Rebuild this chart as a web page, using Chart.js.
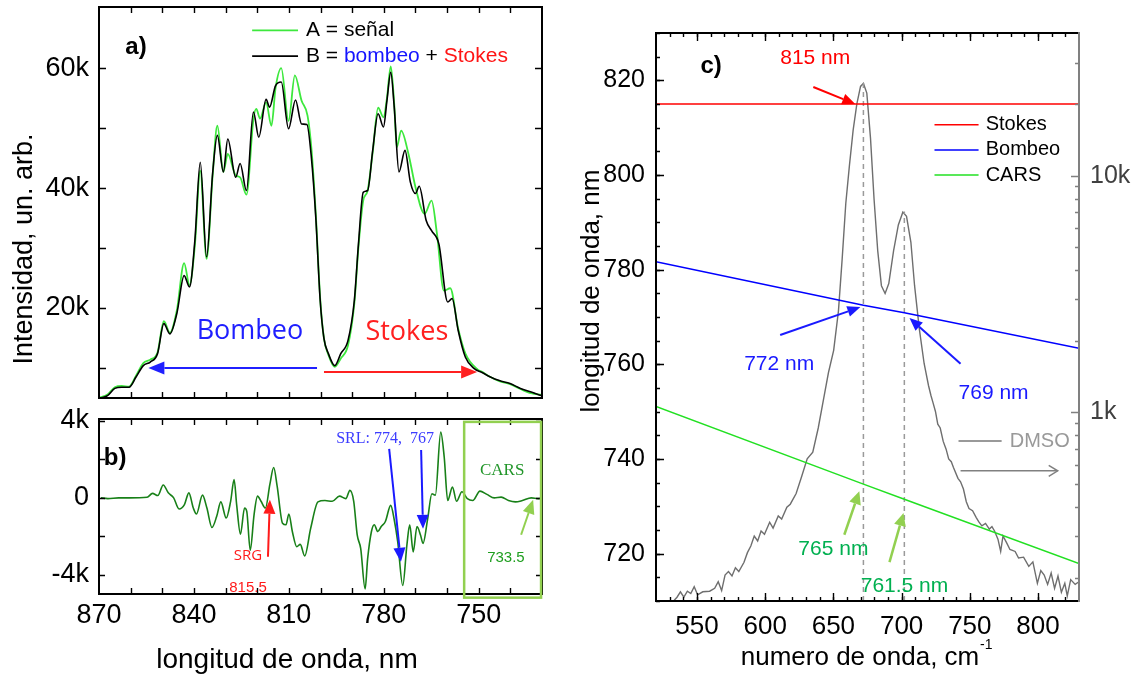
<!DOCTYPE html>
<html>
<head>
<meta charset="utf-8">
<script src="https://cdn.jsdelivr.net/npm/chart.js@4.4.1/dist/chart.umd.min.js"></script>
<style>
  html, body { margin: 0; padding: 0; background: #fff; }
  body { width: 1137px; height: 674px; position: relative; overflow: hidden; }
  canvas { position: absolute; }
</style>
</head>
<body>
<canvas id="chart-a" width="560" height="400" style="left:0;top:0"></canvas>
<canvas id="chart-b" width="560" height="274" style="left:0;top:400px"></canvas>
<canvas id="chart-c" width="577" height="674" style="left:560px;top:0"></canvas>
<script>
const FONT = "'Liberation Sans', Arial, sans-serif";

// ---- panel a) : A = señal (green), B = bombeo + Stokes (black), intensity in k
const lamSenal = [870, 867.3, 865.0, 862.8, 860.5, 858.3, 856.0, 853.8, 851.5, 849.5, 847.6, 845.4, 843.1, 841.4, 839.7, 838.0, 836.0, 834.1, 832.6, 830.7, 829.3, 826.8, 825.4, 823.4, 821.2, 820.3, 819.1, 817.2, 815.5, 814.2, 812.4, 810.1, 808.1, 806.0, 804.1, 802.9, 801.5, 800.1, 798.9, 797.5, 795.5, 793.6, 791.3, 789.3, 788.0, 786.5, 785.1, 783.5, 781.8, 780.1, 779.0, 777.8, 776.7, 775.9, 774.5, 772.2, 770.0, 767.1, 764.9, 763.2, 761.0, 759.0, 756.5, 754.2, 750.2, 749.1, 746.3, 743.5, 740.1, 736.8, 733.4, 730.2];
const senal = [5.0, 5.6, 6.8, 7.0, 6.9, 8.7, 10.8, 11.4, 12.6, 17.8, 15.9, 19.6, 27.5, 23.8, 30.5, 42.9, 28.2, 42.0, 50.4, 42.7, 45.7, 42.1, 41.8, 38.9, 51.5, 53.2, 51.6, 54.3, 50.4, 56.7, 60.0, 51.2, 58.8, 54.6, 52.1, 46.8, 35.8, 21.6, 14.9, 12.2, 10.2, 11.6, 13.8, 20.8, 30.2, 37.9, 39.6, 46.0, 53.4, 51.8, 55.0, 60.3, 54.0, 46.8, 49.6, 45.7, 40.2, 35.7, 37.9, 32.4, 22.9, 23.3, 16.6, 12.4, 9.7, 9.4, 8.5, 7.8, 7.3, 6.5, 5.8, 5.5];

const lamBS = [870, 867.3, 865.0, 862.8, 860.5, 858.3, 856.0, 853.8, 851.5, 849.5, 847.6, 845.4, 843.1, 841.4, 839.7, 838.0, 836.0, 834.1, 832.6, 830.7, 829.3, 826.8, 825.4, 823.4, 821.2, 819.5, 817.2, 816.1, 814.2, 812.4, 810.1, 807.9, 806.0, 804.3, 802.9, 801.5, 800.1, 798.9, 797.5, 795.5, 793.6, 791.3, 789.3, 788.0, 786.5, 785.1, 783.5, 781.8, 780.1, 779.0, 777.8, 776.7, 775.2, 773.3, 771.6, 770.0, 768.8, 766.6, 764.9, 762.6, 759.8, 758.4, 756.5, 754.2, 751.4, 749.1, 746.3, 743.5, 740.1, 736.8, 733.4, 730.2];
const bombeoStokes = [4.9, 5.4, 6.6, 6.8, 6.8, 8.5, 10.4, 11.0, 12.4, 17.4, 15.7, 19.1, 25.4, 23.5, 31.3, 44.3, 28.5, 42.4, 48.8, 42.7, 48.2, 41.8, 44.1, 39.6, 52.7, 48.5, 54.8, 53.5, 57.1, 57.7, 49.9, 54.7, 50.7, 50.6, 45.2, 35.2, 21.3, 14.9, 12.4, 10.4, 12.4, 14.6, 21.3, 30.7, 39.3, 39.6, 46.3, 52.4, 50.2, 54.6, 59.3, 53.5, 42.7, 46.3, 41.0, 39.1, 40.3, 34.6, 32.9, 30.7, 21.0, 21.6, 16.3, 11.8, 9.9, 9.3, 8.5, 7.9, 7.4, 6.6, 6.0, 5.4];

// ---- panel b) : difference A - B, in k
const lamDiff = [869.4, 867.2, 863.8, 860.5, 854.8, 853.1, 851.4, 849.7, 848.1, 846.4, 844.7, 843.0, 841.6, 840.2, 839.2, 837.3, 835.9, 834.3, 832.8, 831.5, 829.8, 828.4, 827.3, 826.5, 825.3, 824.0, 823.3, 822.2, 821.0, 819.9, 818.8, 817.4, 816.0, 814.8, 813.7, 812.0, 810.9, 810.0, 808.9, 807.5, 806.4, 805.0, 803.1, 800.8, 798.6, 796.3, 794.0, 792.0, 790.7, 789.5, 788.4, 787.3, 785.9, 785.1, 783.9, 783.0, 781.9, 780.8, 779.5, 777.8, 776.7, 775.6, 774.0, 772.7, 771.8, 770.7, 769.5, 768.4, 767.6, 766.1, 764.8, 763.7, 762.0, 760.9, 759.8, 758.3, 757.0, 755.3, 753.6, 751.9, 749.6, 747.4, 745.1, 742.9, 740.6, 738.4, 736.2, 733.4, 731.2, 730.2];
const diff = [0, -0.04, 0, 0, 0.03, 0.23, 0.12, 0.67, 0.26, 0, -0.58, -0.35, 0.26, -0.53, -0.84, 0.14, -0.53, -1.54, -0.96, -0.21, -1.05, -0.18, 0.95, -0.35, -1.89, -0.53, -0.70, -2.72, -0.88, 0.09, -0.18, -0.53, 0.70, 1.58, 0.61, -1.32, -1.40, -0.84, -1.75, -2.54, -2.42, -3.02, -1.58, -0.21, -0.14, -0.18, 0.09, -0.04, 0.39, -0.18, -1.93, -2.63, -4.74, -3.16, -1.75, -1.40, -1.75, -1.49, -1.23, -0.39, -1.14, -2.28, -4.56, -2.46, -1.40, -2.81, -1.49, -1.93, -2.37, -1.05, 0.21, 0.14, 3.42, 2.11, -0.14, 0.56, -0.18, 0.32, -0.04, -0.14, 0.35, 0.18, 0, 0.04, -0.14, -0.21, -0.14, 0, -0.04, -0.02];

// ---- panel c) : wavelength lines vs Raman shift, DMSO spectrum (counts, log)
const shiftLines = [520, 672, 702, 830];
const stokesNm = [815, 815, 815, 815];
const bombeoNm = [781.7, 772.5, 770.9, 763.4];
const carsNm = [751.1, 734.7, 731.5, 717.9];
const peakShift = [672, 702];
const peakTopNm = [819.5, 792.3];

const dmsoShift = [532.9, 535.4, 537.9, 540.4, 543.0, 545.5, 548.0, 550.5, 554.3, 559.3, 563.0, 565.6, 568.1, 570.6, 573.1, 575.7, 578.2, 580.7, 584.5, 587.0, 589.5, 592.0, 594.5, 597.0, 599.5, 603.3, 605.8, 609.6, 612.1, 615.9, 618.4, 622.7, 626.8, 630.8, 634.9, 638.9, 642.9, 646.4, 650.2, 653.7, 656.4, 659.1, 661.8, 664.5, 667.2, 669.9, 672.0, 674.5, 677.2, 679.8, 682.5, 685.2, 687.9, 690.6, 694.1, 697.6, 700.9, 703.6, 706.8, 709.5, 713.0, 716.5, 719.7, 721.5, 723.0, 724.8, 726.5, 728.3, 730.5, 732.6, 734.5, 736.4, 738.0, 741.3, 743.2, 745.3, 747.4, 749.4, 752.0, 754.7, 756.6, 758.8, 761.5, 764.3, 766.2, 768.1, 770.6, 772.6, 774.3, 776.9, 779.4, 783.2, 785.7, 789.4, 793.2, 796.2, 799.5, 802.0, 804.5, 807.0, 809.6, 812.1, 814.6, 817.1, 819.6, 821.4, 823.9, 827.2, 830];
const dmso = [160, 166, 175, 166, 176, 172, 184, 170, 175, 176, 181, 193, 177, 206, 213, 204, 221, 213, 233, 256, 273, 301, 287, 316, 306, 344, 325, 366, 355, 398, 410, 455, 538, 637, 680, 860, 1148, 1475, 1830, 2680, 4420, 7640, 11100, 15600, 20100, 23800, 24500, 22300, 14400, 7960, 4810, 3430, 3180, 3500, 4810, 6190, 7010, 6730, 5230, 3430, 2250, 1610, 1300, 1180, 1100, 1010, 893, 860, 755, 700, 637, 620, 586, 527, 510, 475, 420, 393, 385, 360, 345, 332, 340, 322, 330, 316, 292, 259, 301, 282, 264, 259, 243, 245, 224, 234, 190, 215, 206, 188, 210, 181, 204, 174, 190, 168, 197, 188, 193];

// tick values
const range = (a, b, s) => { const r = []; for (let v = a; v <= b + 1e-9; v += s) r.push(v); return r; };
const ticksAB = [870, 840, 810, 780, 750];
const yTicksA = [20000, 40000, 60000];
const yTicksB = [-4000, 0, 4000];
const xTicksC = [550, 600, 650, 700, 750, 800];
const yTicksC = [720, 740, 760, 780, 800, 820];
const yTicksC2 = [1000, 10000];
const logMinor = [200, 300, 400, 500, 600, 700, 800, 900, 2000, 3000, 4000, 5000, 6000, 7000, 8000, 9000, 20000, 30000];

const pts = (xs, ys, k = 1) => xs.map((x, i) => ({ x, y: ys[i] * k }));

// fixed axis sizes, no extra label padding so the plot box sits where it should
const fixY = (w) => (s) => { s.width = w; s.paddingTop = 0; s.paddingBottom = 0; };
const fixX = (h) => (s) => { s.height = h; s.paddingLeft = 0; s.paddingRight = 0; };

// box frame with inward ticks
const makeFrame = (cfg) => ({
    id: 'frame',
    afterDatasetsDraw(chart) {
        const { ctx, chartArea: a } = chart;
        ctx.save();
        for (const t of cfg.ticks) {
            const sc = chart.scales[t.scale];
            ctx.strokeStyle = t.color || '#000';
            ctx.lineWidth = t.width || 1.4;
            ctx.beginPath();
            for (const v of t.values) {
                const p = Math.round(sc.getPixelForValue(v)) + 0.5;
                for (const side of t.sides) {
                    if (side === 'bottom') { ctx.moveTo(p, a.bottom); ctx.lineTo(p, a.bottom - t.len); }
                    if (side === 'top') { ctx.moveTo(p, a.top); ctx.lineTo(p, a.top + t.len); }
                    if (side === 'left') { ctx.moveTo(a.left, p); ctx.lineTo(a.left + t.len, p); }
                    if (side === 'right') { ctx.moveTo(a.right, p); ctx.lineTo(a.right - t.len, p); }
                }
            }
            ctx.stroke();
        }
        ctx.lineWidth = cfg.width || 2;
        ctx.strokeStyle = '#000';
        ctx.beginPath();
        ctx.moveTo(a.right, a.top); ctx.lineTo(a.left, a.top);
        ctx.lineTo(a.left, a.bottom); ctx.lineTo(a.right, a.bottom);
        ctx.stroke();
        ctx.strokeStyle = cfg.rightColor || '#000';
        ctx.beginPath(); ctx.moveTo(a.right, a.top - 1); ctx.lineTo(a.right, a.bottom + 1); ctx.stroke();
        ctx.restore();
    }
});

const drawArrow = (ctx, x1, y1, x2, y2, it) => {
    const ang = Math.atan2(y2 - y1, x2 - x1);
    const hl = it.hl || 14, hw = it.hw || 12;
    const bx = x2 - hl * Math.cos(ang), by = y2 - hl * Math.sin(ang);
    const px = -Math.sin(ang) * hw / 2, py = Math.cos(ang) * hw / 2;
    ctx.strokeStyle = it.color; ctx.fillStyle = it.color; ctx.lineWidth = it.w || 2;
    ctx.beginPath(); ctx.moveTo(x1, y1);
    if (it.open) ctx.lineTo(x2, y2); else ctx.lineTo(bx, by);
    ctx.stroke();
    ctx.beginPath();
    ctx.moveTo(bx + px, by + py); ctx.lineTo(x2, y2); ctx.lineTo(bx - px, by - py);
    if (it.open) ctx.stroke(); else { ctx.closePath(); ctx.fill(); }
};

// text, arrows and boxes placed in data units (or canvas pixels when px is set)
const makeNotes = (items) => ({
    id: 'notes',
    afterDatasetsDraw(chart) {
        const ctx = chart.ctx;
        const P = (it, v, axis) => it.px ? v : chart.scales[axis === 'x' ? (it.xs || 'x') : (it.ys || 'y')].getPixelForValue(v);
        ctx.save();
        for (const it of items) {
            if (it.kind === 'text' || it.kind === 'rich') {
                const x = P(it, it.x, 'x'), y = P(it, it.y, 'y');
                ctx.font = it.font;
                ctx.textBaseline = 'middle';
                ctx.save();
                ctx.translate(x, y);
                if (it.rot) ctx.rotate(it.rot * Math.PI / 180);
                if (it.kind === 'text') {
                    ctx.textAlign = it.align || 'center';
                    ctx.fillStyle = it.color || '#000';
                    ctx.fillText(it.text, 0, 0);
                } else {
                    ctx.textAlign = 'left';
                    let cx = 0;
                    for (const [s, c] of it.parts) { ctx.fillStyle = c; ctx.fillText(s, cx, 0); cx += ctx.measureText(s).width; }
                }
                ctx.restore();
            } else if (it.kind === 'line') {
                ctx.strokeStyle = it.color; ctx.lineWidth = it.w || 1.5;
                ctx.beginPath();
                ctx.moveTo(P(it, it.x1, 'x'), P(it, it.y1, 'y'));
                ctx.lineTo(P(it, it.x2, 'x'), P(it, it.y2, 'y'));
                ctx.stroke();
            } else if (it.kind === 'arrow') {
                drawArrow(ctx, P(it, it.x1, 'x'), P(it, it.y1, 'y'), P(it, it.x2, 'x'), P(it, it.y2, 'y'), it);
            } else if (it.kind === 'rect') {
                const x1 = P(it, it.x1, 'x'), y1 = P(it, it.y1, 'y'), x2 = P(it, it.x2, 'x'), y2 = P(it, it.y2, 'y');
                ctx.strokeStyle = it.color; ctx.lineWidth = it.w || 2;
                ctx.strokeRect(x1, y1, x2 - x1, y2 - y1);
            }
        }
        ctx.restore();
    }
});

const noGrid = { display: false, drawTicks: false };
const base = { responsive: false, animation: false, events: [], plugins: { legend: { display: false }, tooltip: { enabled: false } } };
const kLabel = (v) => v === 0 ? '0' : (v / 1000) + 'k';

// ---------------- a)
new Chart(document.getElementById('chart-a'), {
    type: 'line',
    data: {
        datasets: [
            { data: pts(lamBS, bombeoStokes, 1000), borderColor: '#000', borderWidth: 1.6, pointRadius: 0, cubicInterpolationMode: 'monotone' },
            { data: pts(lamSenal, senal, 1000), borderColor: '#3de83d', borderWidth: 1.8, pointRadius: 0, cubicInterpolationMode: 'monotone' }
        ]
    },
    options: {
        ...base,
        layout: { padding: { top: 7, right: 18, bottom: 2, left: 0 } },
        scales: {
            x: { type: 'linear', reverse: true, min: 730, max: 870, display: false },
            y: {
                min: 5000, max: 70200,
                afterFit: fixY(99),
                afterBuildTicks: (s) => { s.ticks = yTicksA.map(v => ({ value: v })); },
                grid: noGrid, border: { display: false },
                ticks: { padding: 10, color: '#000', font: { family: FONT, size: 27 }, callback: kLabel }
            }
        }
    },
    plugins: [
        makeFrame({ ticks: [
            { scale: 'x', values: range(740, 860, 10), len: 6, sides: ['top', 'bottom'] },
            { scale: 'y', values: range(10000, 60000, 10000), len: 7, sides: ['left', 'right'] }
        ] }),
        makeNotes([
            { kind: 'text', x: 858.3, y: 63500, text: 'a)', font: `bold 24px ${FONT}` },
            { kind: 'line', x1: 821.6, y1: 66300, x2: 807.1, y2: 66300, color: '#3de83d', w: 1.8 },
            { kind: 'text', x: 804.6, y: 66300, text: 'A = señal', align: 'left', font: `21px ${FONT}` },
            { kind: 'line', x1: 821.6, y1: 62000, x2: 807.1, y2: 62000, color: '#000', w: 1.6 },
            { kind: 'rich', x: 804.6, y: 62000, font: `21px ${FONT}`, parts: [['B = ', '#000'], ['bombeo', '#1414ff'], [' + ', '#000'], ['Stokes', '#ff1414']] },
            { kind: 'text', x: 822.3, y: 16200, text: 'Bombeo', font: "27px 'Open Sans'", color: '#1f1fff' },
            { kind: 'text', x: 772.7, y: 16000, text: 'Stokes', font: "27px 'Open Sans'", color: '#ff2020' },
            { kind: 'arrow', x1: 801.1, y1: 10000, x2: 854.4, y2: 10000, color: '#2020ff', w: 2, hl: 16, hw: 13 },
            { kind: 'arrow', x1: 798.9, y1: 9330, x2: 750.5, y2: 9330, color: '#ff2020', w: 2, hl: 16, hw: 13 },
            { kind: 'text', px: true, x: 25, y: 249, rot: -90, text: 'Intensidad, un. arb.', font: `27px ${FONT}` }
        ])
    ]
});

// ---------------- b)
new Chart(document.getElementById('chart-b'), {
    type: 'line',
    data: {
        datasets: [
            { data: pts(lamDiff, diff, 1000), borderColor: '#188018', borderWidth: 1.6, pointRadius: 0, cubicInterpolationMode: 'monotone' }
        ]
    },
    options: {
        ...base,
        layout: { padding: { top: 19, right: 18, bottom: 0, left: 0 } },
        scales: {
            x: {
                type: 'linear', reverse: true, min: 730, max: 870,
                afterFit: fixX(80),
                afterBuildTicks: (s) => { s.ticks = ticksAB.map(v => ({ value: v })); },
                grid: noGrid, border: { display: false },
                ticks: { padding: 5, color: '#000', maxRotation: 0, font: { family: FONT, size: 27 } }
            },
            y: {
                min: -5000, max: 4100,
                afterFit: fixY(99),
                afterBuildTicks: (s) => { s.ticks = yTicksB.map(v => ({ value: v })); },
                grid: noGrid, border: { display: false },
                ticks: { padding: 10, color: '#000', font: { family: FONT, size: 27 }, callback: kLabel }
            }
        }
    },
    plugins: [
        makeFrame({ ticks: [
            { scale: 'x', values: range(740, 860, 10), len: 6, sides: ['top', 'bottom'] },
            { scale: 'y', values: range(-4000, 4000, 2000), len: 6, sides: ['left', 'right'] }
        ] }),
        makeNotes([
            { kind: 'text', x: 864.9, y: 2030, text: 'b)', font: `bold 24px ${FONT}` },
            { kind: 'text', x: 779.6, y: 3060, text: 'SRL: 774,  767', font: "16px 'Liberation Serif'", color: '#3c3cff' },
            { kind: 'arrow', x1: 778.3, y1: 2550, x2: 774.6, y2: -3320, color: '#1a1aff', w: 2, hl: 14, hw: 12 },
            { kind: 'arrow', x1: 768.2, y1: 2490, x2: 767.6, y2: -1610, color: '#1a1aff', w: 2, hl: 14, hw: 12 },
            { kind: 'text', x: 822.9, y: -3010, text: 'SRG', font: "15px 'Open Sans'", color: '#ff1a1a' },
            { kind: 'arrow', x1: 816.6, y1: -3060, x2: 816.0, y2: -100, color: '#ff1a1a', w: 2, hl: 14, hw: 12 },
            { kind: 'text', x: 822.9, y: -4680, text: '815.5', font: "15px 'Liberation Sans Narrow', 'Liberation Sans'", color: '#ff1a1a' },
            { kind: 'rect', x1: 754.6, y1: 3950, x2: 730.3, y2: -5190, color: '#92d050', w: 2.5 },
            { kind: 'text', x: 742.6, y: 1400, text: 'CARS', font: "17px 'Liberation Serif'", color: '#22962a' },
            { kind: 'text', x: 741.4, y: -3120, text: '733.5', font: "15px 'Liberation Sans Narrow', 'Liberation Sans'", color: '#1e9e1e' },
            { kind: 'arrow', x1: 736.6, y1: -1920, x2: 732.8, y2: -100, color: '#92d050', w: 2, hl: 14, hw: 12 },
            { kind: 'text', px: true, x: 287, y: 260, text: 'longitud de onda, nm', font: `28px ${FONT}` }
        ])
    ]
});

// ---------------- c)
new Chart(document.getElementById('chart-c'), {
    type: 'line',
    data: {
        datasets: [
            { data: pts(shiftLines, stokesNm), borderColor: '#ff0000', borderWidth: 1.5, pointRadius: 0, yAxisID: 'y' },
            { data: pts(shiftLines, bombeoNm), borderColor: '#0000ff', borderWidth: 1.5, pointRadius: 0, yAxisID: 'y' },
            { data: pts(shiftLines, carsNm), borderColor: '#22e022', borderWidth: 1.5, pointRadius: 0, yAxisID: 'y' },
            { data: [{ x: peakShift[0], y: 710 }, { x: peakShift[0], y: peakTopNm[0] }], borderColor: '#9a9a9a', borderWidth: 1.5, borderDash: [5, 4], pointRadius: 0, yAxisID: 'y' },
            { data: [{ x: peakShift[1], y: 710 }, { x: peakShift[1], y: peakTopNm[1] }], borderColor: '#9a9a9a', borderWidth: 1.5, borderDash: [5, 4], pointRadius: 0, yAxisID: 'y' },
            { data: pts(dmsoShift, dmso), borderColor: '#6e6e6e', borderWidth: 1.4, pointRadius: 0, yAxisID: 'y2' }
        ]
    },
    options: {
        ...base,
        layout: { padding: { top: 33, right: 0, bottom: 0, left: 0 } },
        scales: {
            x: {
                type: 'linear', min: 520, max: 830,
                afterFit: fixX(73),
                afterBuildTicks: (s) => { s.ticks = xTicksC.map(v => ({ value: v })); },
                grid: noGrid, border: { display: false },
                ticks: { padding: 10, color: '#000', maxRotation: 0, font: { family: FONT, size: 26 } }
            },
            y: {
                position: 'left', min: 710, max: 830,
                afterFit: fixY(96),
                afterBuildTicks: (s) => { s.ticks = yTicksC.map(v => ({ value: v })); },
                grid: noGrid, border: { display: false },
                ticks: { padding: 11, color: '#000', font: { family: FONT, size: 25 } }
            },
            y2: {
                type: 'logarithmic', position: 'right', min: 160, max: 40000,
                afterFit: fixY(58),
                afterBuildTicks: (s) => { s.ticks = yTicksC2.map(v => ({ value: v })); },
                grid: noGrid, border: { display: false },
                ticks: { padding: 11, color: '#404040', font: { family: FONT, size: 25 }, callback: (v) => v >= 10000 ? '10k' : '1k' }
            }
        }
    },
    plugins: [
        makeFrame({ rightColor: '#808080', ticks: [
            { scale: 'x', values: range(530, 820, 10), len: 4, sides: ['top', 'bottom'] },
            { scale: 'x', values: xTicksC, len: 8, sides: ['top', 'bottom'] },
            { scale: 'y', values: range(710, 830, 5), len: 4, sides: ['left'] },
            { scale: 'y', values: yTicksC, len: 8, sides: ['left'] },
            { scale: 'y2', values: logMinor, len: 4, sides: ['right'], color: '#808080' },
            { scale: 'y2', values: yTicksC2, len: 8, sides: ['right'], color: '#808080' }
        ] }),
        makeNotes([
            { kind: 'text', x: 560.4, y: 823, text: 'c)', font: `bold 24px ${FONT}` },
            { kind: 'text', x: 636.7, y: 824.7, text: '815 nm', font: `21px ${FONT}`, color: '#ff0000' },
            { kind: 'arrow', x1: 635.3, y1: 818.6, x2: 666, y2: 815, color: '#ff0000', w: 2, hl: 13, hw: 11 },
            { kind: 'line', x1: 724.1, y1: 810.6, x2: 756.4, y2: 810.6, color: '#ff0000', w: 1.5 },
            { kind: 'text', x: 761.6, y: 810.6, text: 'Stokes', align: 'left', font: `20px ${FONT}` },
            { kind: 'line', x1: 724.1, y1: 805.3, x2: 756.4, y2: 805.3, color: '#0000ff', w: 1.5 },
            { kind: 'text', x: 761.6, y: 805.3, text: 'Bombeo', align: 'left', font: `20px ${FONT}` },
            { kind: 'line', x1: 724.1, y1: 800, x2: 756.4, y2: 800, color: '#22e022', w: 1.5 },
            { kind: 'text', x: 761.6, y: 800, text: 'CARS', align: 'left', font: `20px ${FONT}` },
            { kind: 'text', x: 610.3, y: 760.1, text: '772 nm', font: `21px ${FONT}`, color: '#1a1aff' },
            { kind: 'arrow', x1: 611, y1: 766.2, x2: 669.8, y2: 772.1, color: '#1a1aff', w: 2, hl: 13, hw: 11 },
            { kind: 'text', x: 767.4, y: 753.9, text: '769 nm', font: `21px ${FONT}`, color: '#1a1aff' },
            { kind: 'arrow', x1: 743.2, y1: 760.1, x2: 705.8, y2: 769.8, color: '#1a1aff', w: 2, hl: 13, hw: 11 },
            { kind: 'line', x1: 741.7, y1: 743.8, x2: 773.3, y2: 743.8, color: '#777', w: 1.5 },
            { kind: 'text', x: 779.2, y: 743.8, text: 'DMSO', align: 'left', font: `20px ${FONT}`, color: '#999' },
            { kind: 'arrow', x1: 743.2, y1: 737.5, x2: 814.4, y2: 737.5, color: '#808080', w: 1.5, hl: 9, hw: 11, open: true },
            { kind: 'text', x: 650, y: 721, text: '765 nm', font: `21px ${FONT}`, color: '#00b050' },
            { kind: 'arrow', x1: 658, y1: 724, x2: 669, y2: 733.2, color: '#92d050', w: 2.5, hl: 13, hw: 12 },
            { kind: 'text', x: 702.1, y: 713.2, text: '761.5 nm', font: `21px ${FONT}`, color: '#00b050' },
            { kind: 'arrow', x1: 691.1, y1: 718.2, x2: 701.4, y2: 728.6, color: '#92d050', w: 2.5, hl: 13, hw: 12 },
            { kind: 'text', px: true, x: 32, y: 291, rot: -90, text: 'longitud de onda, nm', font: `26px ${FONT}` },
            { kind: 'text', px: true, x: 300, y: 658, text: 'numero de onda, cm', font: `26px ${FONT}` },
            { kind: 'text', px: true, x: 420, y: 645, text: '-1', align: 'left', font: `14px ${FONT}` }
        ])
    ]
});
</script>
</body>
</html>
